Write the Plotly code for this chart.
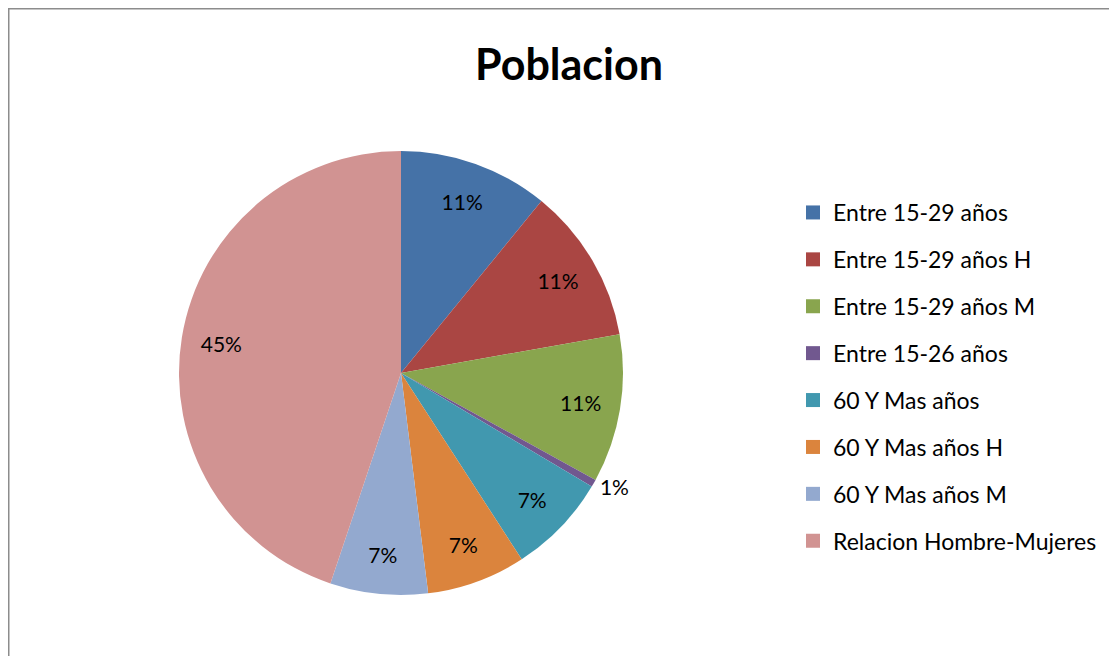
import plotly.graph_objects as go

# ── Data ──────────────────────────────────────────────────────────────────────
labels = [
    "Entre 15-29 años",
    "Entre 15-29 años H",
    "Entre 15-29 años M",
    "Entre 15-26 años",
    "60 Y Mas años",
    "60 Y Mas años H",
    "60 Y Mas años M",
    "Relacion Hombre-Mujeres",
]
values = [10.9, 11.3, 10.8, 0.55, 7.3, 7.2, 7.1, 44.85]
colors = ["#4572A7", "#AA4643", "#89A54E", "#71588F",
          "#4198AF", "#DB843D", "#93A9CF", "#D19392"]
text_pos = ["inside"] * 3 + ["outside"] + ["inside"] * 4

FONT = "Lato, Calibri, sans-serif"
W, H = 1117, 656
CX, CY, R = 393, 291, 222          # pie centre (from left / bottom) and radius, px
pie_domain = dict(x=[(CX - R) / W, (CX + R) / W], y=[(CY - R) / H, (CY + R) / H])

fig = go.Figure()

# Coloured slices, no text
fig.add_trace(go.Pie(
    labels=labels, values=values,
    sort=False, direction="clockwise", rotation=0,
    marker=dict(colors=colors, line=dict(width=0)),
    textinfo="none",
    showlegend=False,
    hoverinfo="label+value+percent",
    domain=pie_domain,
))

# Transparent ring on top, only to carry the percentage labels further out
fig.add_trace(go.Pie(
    labels=labels, values=values, hole=0.64,
    sort=False, direction="clockwise", rotation=0,
    marker=dict(colors=["rgba(0,0,0,0)"] * len(labels), line=dict(width=0)),
    texttemplate="%{percent:.0%}",
    textposition=text_pos,
    insidetextorientation="horizontal",
    textfont=dict(family=FONT, size=21, color="#000000"),
    showlegend=False,
    hoverinfo="skip",
    domain=pie_domain,
))

# Legend entries: one dummy trace per slice so the items get a group gap
for lab, col in zip(labels, colors):
    fig.add_trace(go.Scatter(
        x=[None], y=[None], mode="markers", name=lab,
        legendgroup=lab,
        marker=dict(symbol="square", size=14, color=col),
    ))

fig.update_layout(
    width=W, height=H,
    margin=dict(l=0, r=0, t=0, b=0),
    paper_bgcolor="white", plot_bgcolor="white",
    title=dict(text="<b>Poblacion</b>", x=561 / W, xanchor="center",
               y=1 - 57 / H, yanchor="middle",
               font=dict(family=FONT, size=43, color="#000000")),
    xaxis=dict(visible=False), yaxis=dict(visible=False),
    legend=dict(
        x=785 / W, xanchor="left", y=1 - 183 / H, yanchor="top",
        font=dict(family=FONT, size=23, color="#000000"),
        tracegroupgap=14, itemwidth=30,
        bgcolor="rgba(0,0,0,0)",
    ),
    shapes=[dict(type="rect", xref="paper", yref="paper",
                 x0=0, x1=1.05, y0=-0.05, y1=1,
                 line=dict(color="#8c8c8c", width=3))],
)

fig.write_html("out.html")
